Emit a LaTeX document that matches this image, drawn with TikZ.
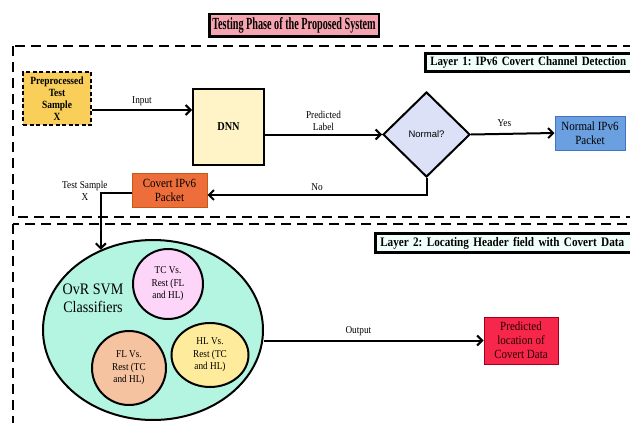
\documentclass[tikz,border=0pt]{standalone}
\usepackage{fontspec}
\setmainfont[FakeStretch=0.88,BoldFeatures={FakeStretch=0.86}]{Liberation Serif}
\newfontfamily\titlefont[FakeStretch=0.6,BoldFeatures={FakeStretch=0.6}]{Liberation Serif}
\newfontfamily\askfont{Liberation Sans}
\usetikzlibrary{shapes.geometric,arrows.meta}
\frenchspacing

\definecolor{titlefill}{HTML}{F6A5B0}
\definecolor{labfill}{HTML}{F0FFFB}
\definecolor{prefill}{HTML}{F9CF5A}
\definecolor{dnnfill}{HTML}{FFF4C7}
\definecolor{diafill}{HTML}{DDE1F8}
\definecolor{normfill}{HTML}{6A9FE0}
\definecolor{normline}{HTML}{4472C4}
\definecolor{covfill}{HTML}{EE6E3B}
\definecolor{covline}{HTML}{C55A11}
\definecolor{svmfill}{HTML}{B3F5E1}
\definecolor{tcfill}{HTML}{FCD5F8}
\definecolor{flfill}{HTML}{F5C3A0}
\definecolor{hlfill}{HTML}{FFEB9C}
\definecolor{predfill}{HTML}{F7264B}
\definecolor{predline}{HTML}{A0001E}

\begin{document}
\begin{tikzpicture}[x=1pt,y=-1pt,
  arr/.style={line width=2pt,-{Straight Barb[length=5pt,width=10pt]}},
  layerline/.style={line width=2pt,dash pattern=on 10pt off 6pt},
  layerlab/.style={draw,line width=2.5pt,fill=labfill,anchor=west,inner xsep=5pt,
    minimum height=18pt,text width=260pt,align=left,
    font=\bfseries\fontsize{13}{14}\selectfont},
  packet/.style={draw,line width=1pt,align=center,inner sep=2pt,
    font=\fontsize{12.5}{14}\selectfont},
  lab/.style={font=\fontsize{10.5}{12}\selectfont,align=center},
  clf/.style={draw,line width=2pt,align=center,inner sep=1pt,
    font=\fontsize{10.5}{12.5}\selectfont}]
  \path[use as bounding box,clip] (0,0) rectangle (630,423);

  % layers
  \draw[layerline] (13,46) rectangle (640,217);
  \draw[layerline] (13,224) rectangle (640,440);

  \node[draw,line width=2.5pt,fill=titlefill,minimum width=169.5pt,minimum height=22.5pt,
    inner sep=1pt,font=\titlefont\bfseries\fontsize{17}{18}\selectfont] (head) at (294,25)
    {Testing Phase of the Proposed System};
  \node[layerlab,font=\bfseries\fontsize{12.7}{14}\selectfont] (lay1) at (424,62.5)
    {Layer 1: IPv6 Covert Channel Detection};
  \node[layerlab] (lay2) at (374,243) {Layer 2: Locating Header field with Covert Data};

  % layer 1
  \node[draw,line width=2pt,dash pattern=on 4pt off 2.5pt,fill=prefill,minimum width=68pt,
    minimum height=53pt,inner sep=1pt,align=center,
    font=\bfseries\fontsize{11}{12}\selectfont] (pre) at (57,98.5) {Preprocessed\\Test\\Sample\\X};
  \node[draw,line width=2pt,fill=dnnfill,minimum width=71pt,minimum height=76pt,
    font=\bfseries\fontsize{12}{14}\selectfont] (dnn) at (228.5,127) {DNN};
  \node[diamond,draw,line width=2pt,fill=diafill,minimum width=87pt,minimum height=85pt,
    inner sep=0pt,font=\askfont\fontsize{9.5}{11}\selectfont] (dia) at (426.5,134.5) {Normal?};
  \node[packet,draw=normline,fill=normfill,minimum width=70pt,minimum height=34pt] (norm)
    at (590,133) {Normal IPv6\\Packet};
  \node[packet,draw=covline,fill=covfill,minimum width=75pt,minimum height=34pt] (cov)
    at (169.5,190) {Covert IPv6\\Packet};

  % layer 2
  \node[ellipse,draw,line width=2pt,fill=svmfill,minimum width=220pt,minimum height=180pt]
    (svm) at (153,330) {};
  \node[align=center,font=\fontsize{16}{18}\selectfont] (ovr) at (93,298) {OvR SVM\\Classifiers};
  \node[clf,circle,fill=tcfill,minimum size=70pt] (tc) at (168,284) {TC Vs.\\Rest (FL\\and HL)};
  \node[clf,circle,fill=flfill,minimum size=74pt] (fl) at (129,368) {FL Vs.\\Rest (TC\\and HL)};
  \node[clf,ellipse,fill=hlfill,minimum width=77pt,minimum height=64pt] (hl) at (210,355)
    {HL Vs.\\Rest (TC\\and HL)};
  \node[draw=predline,fill=predfill,line width=1pt,minimum width=74pt,minimum height=47pt,
    inner sep=2pt,align=center,text=black!85!red,
    font=\fontsize{12.5}{14}\selectfont] (pred) at (521,340.5)
    {Predicted\\location of\\Covert Data};

  % connectors
  \draw[arr] ([yshift=-11.5pt]pre.east) -- ([yshift=-11.5pt]pre.east -| dnn.west)
    node[lab,midway,above] {Input};
  \draw[arr] (dnn.east |- dia.west) -- node[lab,above] {Predicted\\Label} (dia.west);
  \draw[arr] (dia.east) -- node[lab,above,pos=0.4,yshift=3pt] {Yes} (norm.west);
  \draw[arr] (dia.south) |- node[lab,pos=0.75,above] {No} ([yshift=-5pt]cov.east);
  \draw[arr] ([yshift=-3pt]cov.west) -| node[lab,pos=0.5,anchor=east,xshift=11pt,yshift=2pt]
    {Test Sample\\X} (svm.123);
  \draw[arr] (svm.east |- pred.west) -- node[lab,above,pos=0.43] {Output} (pred.west);
\end{tikzpicture}
\end{document}
